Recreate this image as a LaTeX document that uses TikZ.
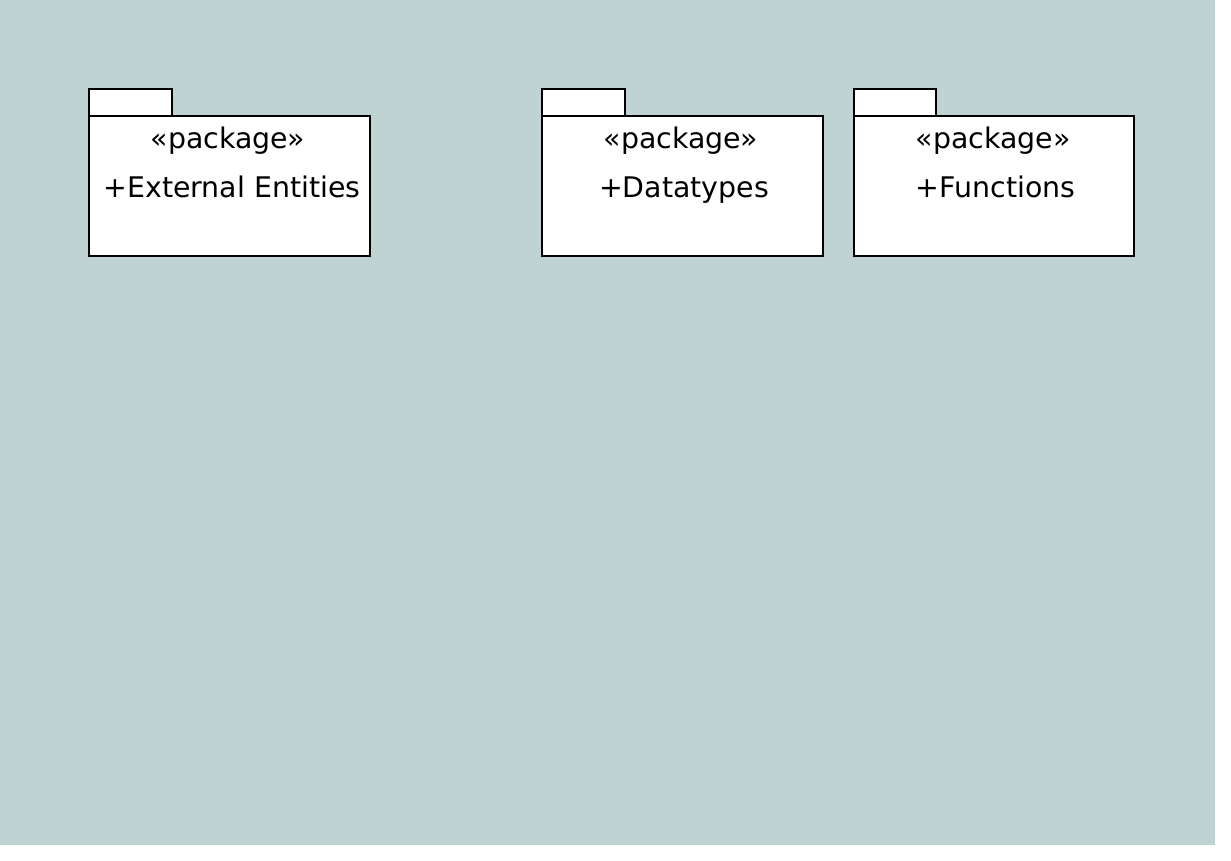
\documentclass[tikz,border=0pt]{standalone}
\usepackage{fontspec}
\setmainfont{DejaVu Sans}
\definecolor{bgc}{RGB}{190,211,210}
\tikzset{
  pkg/.style={draw=black, fill=white, line width=1.3pt},
  lbl/.style={anchor=base, inner sep=0pt, font=\fontsize{28.4}{34}\selectfont}
}
\begin{document}
\begin{tikzpicture}[x=1pt,y=-1pt]
\useasboundingbox (0,0) rectangle (1231,861);
\fill[white] (0,0) rectangle (1231,861);
\fill[bgc] (0,0) rectangle (1215,845);
% package 1
\draw[pkg] (89,89) rectangle (172,116);
\draw[pkg] (89,116) rectangle (370,256);
\node[lbl] (p1s) at (228,149) {«package»};
\node[lbl] (p1n) at (232,197) {+External Entities};
% package 2
\draw[pkg] (542,89) rectangle (625,116);
\draw[pkg] (542,116) rectangle (823,256);
\node[lbl] (p2s) at (681,149) {«package»};
\node[lbl] (p2n) at (684,197) {+Datatypes};
% package 3
\draw[pkg] (854,89) rectangle (936,116);
\draw[pkg] (854,116) rectangle (1134,256);
\node[lbl] (p3s) at (993,149) {«package»};
\node[lbl] (p3n) at (995.5,197) {+Functions};
\end{tikzpicture}
\end{document}
